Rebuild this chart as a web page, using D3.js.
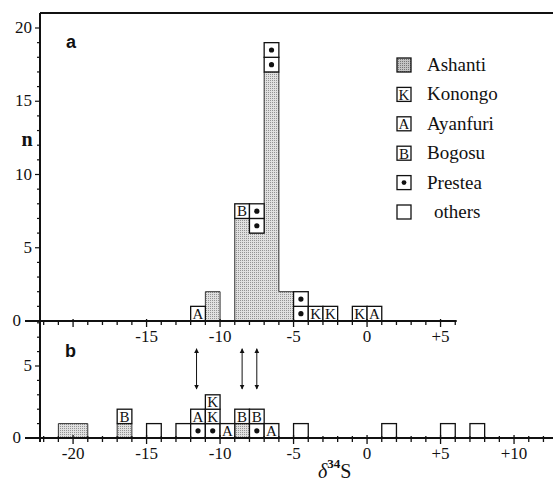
<!DOCTYPE html>
<html>
<head>
<meta charset="utf-8">
<script src="https://cdnjs.cloudflare.com/ajax/libs/d3/7.8.5/d3.min.js"></script>
<style>
  body { margin: 0; background: #fff; }
  #chart text { fill: #111; }
</style>
</head>
<body>
<svg id="chart" width="553" height="481"></svg>
<script>
// panel a - stippled Ashanti counts per 1 permil bin (bin = lower edge)
const ashantiBinsA = [-11, -9, -8, -7, -6]
const ashantiCountA = [2, 7, 6, 17, 2]
// single-sample boxes stacked above, bottom first
const boxBinsA = [-12, -9, -8, -8, -7, -7, -5, -5, -4, -3, -1, 0]
const boxTypesA = ['A', 'B', 'P', 'P', 'P', 'P', 'P', 'P', 'K', 'K', 'K', 'A']

// panel b
const ashantiBinsB = [-21, -20, -17, -9]
const ashantiCountB = [1, 1, 1, 1]
const boxBinsB = [-17, -15, -13, -12, -12, -11, -11, -11, -10, -9, -8, -8, -7, -5, 1, 5, 7]
const boxTypesB = ['B', 'O', 'O', 'P', 'A', 'P', 'K', 'K', 'A', 'B', 'P', 'B', 'A', 'O', 'O', 'O', 'O']
const arrowsB = [-11.6, -8.5, -7.5]

const xLabelsA = [-15, -10, -5, 0, 5]
const xLabelsB = [-20, -15, -10, -5, 0, 5, 10]
const yLabelsA = [5, 10, 15, 20]
const yLabelsB = [5]

const legendCodes = ['S', 'K', 'A', 'B', 'P', 'O']
const legendNames = ['Ashanti', 'Konongo', 'Ayanfuri', 'Bogosu', 'Prestea', 'others']

const serif = "'Liberation Serif', 'Times New Roman', serif"
const sans = "'Liberation Sans', Arial, sans-serif"

const svg = d3.select('#chart')
const x = d3.scaleLinear().domain([-22.25, 12.65]).range([40, 553])
const yA = d3.scaleLinear().domain([0, 20]).range([321, 28])
const yB = d3.scaleLinear().domain([0, 5]).range([438, 366])

// stipple
const defs = svg.append('defs')
const pat = defs.append('pattern').attr('id', 'stip')
  .attr('width', 2).attr('height', 2).attr('patternUnits', 'userSpaceOnUse')
pat.append('rect').attr('width', 2).attr('height', 2).attr('fill', '#e0e0e0')
pat.append('rect').attr('width', 1).attr('height', 1).attr('fill', '#939393')
const pat2 = defs.append('pattern').attr('id', 'stipDark')
  .attr('width', 2).attr('height', 2).attr('patternUnits', 'userSpaceOnUse')
pat2.append('rect').attr('width', 2).attr('height', 2).attr('fill', '#c4c4c4')
pat2.append('rect').attr('width', 1).attr('height', 1).attr('fill', '#777')
defs.append('marker').attr('id', 'head')
  .attr('viewBox', '0 0 10 10').attr('refX', 9).attr('refY', 5)
  .attr('markerWidth', 5).attr('markerHeight', 6).attr('orient', 'auto-start-reverse')
  .append('path').attr('d', 'M0,0L10,5L0,10z').attr('fill', '#111')

function drawPanel(y, ashBins, ashCount, boxBins, boxTypes) {
  const g = svg.append('g')
  g.selectAll('rect.ash')
    .data(ashBins)
    .enter()
    .append('rect')
    .attr('class', 'ash')
    .attr('x', d => x(d))
    .attr('width', d => x(d + 1) - x(d))
    .attr('y', (d, i) => y(ashCount[i]))
    .attr('height', (d, i) => y(0) - y(ashCount[i]))
    .attr('fill', 'url(#stip)')

  // outline of the stippled blocks
  const p = d3.path()
  let prev = null
  ashBins.forEach(function(b, i) {
    const h = ashCount[i]
    if (prev === null || b !== prev + 1) {
      if (prev !== null) p.lineTo(x(prev + 1), y(0))
      p.moveTo(x(b), y(0))
    }
    p.lineTo(x(b), y(h))
    p.lineTo(x(b + 1), y(h))
    prev = b
  })
  p.lineTo(x(prev + 1), y(0))
  g.append('path').attr('d', p.toString())
    .attr('fill', 'none').attr('stroke', '#333').attr('stroke-width', 1)

  const level = {}
  ashBins.forEach((b, i) => { level[b] = ashCount[i] })
  const boxes = boxBins.map(function(b, i) {
    const l = level[b] || 0
    level[b] = l + 1
    return { bin: b, type: boxTypes[i], lev: l }
  })
  const bx = g.selectAll('g.box')
    .data(boxes)
    .enter()
    .append('g')
    .attr('class', 'box')
  bx.append('rect')
    .attr('x', d => x(d.bin))
    .attr('width', d => x(d.bin + 1) - x(d.bin))
    .attr('y', d => y(d.lev + 1))
    .attr('height', d => y(d.lev) - y(d.lev + 1))
    .attr('fill', '#fff')
    .attr('stroke', '#111')
    .attr('stroke-width', 1.3)
  bx.filter(d => d.type === 'P')
    .append('circle')
    .attr('cx', d => x(d.bin + 0.5))
    .attr('cy', d => y(d.lev + 0.5))
    .attr('r', 2.6)
    .attr('fill', '#111')
  bx.filter(d => 'KAB'.includes(d.type))
    .append('text')
    .attr('x', d => x(d.bin + 0.5))
    .attr('y', d => y(d.lev) - 2)
    .attr('text-anchor', 'middle')
    .attr('font-family', serif)
    .attr('font-size', 15)
    .text(d => d.type)
  return g
}

function fmt(d) {
  return d > 0 ? '+' + d : d < 0 ? '-' + Math.abs(d) : '0'
}

function tickMarks(axisY, from, to, lenUp, lenDown, majUp, majDown) {
  svg.append('g').selectAll('line')
    .data(d3.range(from, to + 1))
    .enter()
    .append('line')
    .attr('x1', d => x(d)).attr('x2', d => x(d))
    .attr('y1', d => axisY - (d % 5 === 0 ? majUp : lenUp))
    .attr('y2', d => axisY + (d % 5 === 0 ? majDown : lenDown))
    .attr('stroke', '#111').attr('stroke-width', 1.3)
}

function yTicks(y, from, to, labels) {
  svg.append('g').selectAll('line')
    .data(d3.range(from, to + 1))
    .enter()
    .append('line')
    .attr('x1', d => d % 5 === 0 ? 35 : 37).attr('x2', 40)
    .attr('y1', d => y(d)).attr('y2', d => y(d))
    .attr('stroke', '#111').attr('stroke-width', 1.2)
  svg.append('g').selectAll('text')
    .data(labels)
    .enter()
    .append('text')
    .attr('x', 32).attr('y', d => y(d) + 5)
    .attr('text-anchor', 'end')
    .attr('font-family', serif)
    .attr('font-size', 17)
    .text(d => d)
}

drawPanel(yA, ashantiBinsA, ashantiCountA, boxBinsA, boxTypesA)
drawPanel(yB, ashantiBinsB, ashantiCountB, boxBinsB, boxTypesB)

// frame and axes
svg.append('line').attr('x1', 40).attr('x2', 553).attr('y1', 13).attr('y2', 13)
  .attr('stroke', '#111').attr('stroke-width', 2)
svg.append('line').attr('x1', 40).attr('x2', 40).attr('y1', 13).attr('y2', yB(0) + 4)
  .attr('stroke', '#111').attr('stroke-width', 2)
svg.append('line').attr('x1', 25).attr('x2', x(6.1)).attr('y1', yA(0)).attr('y2', yA(0))
  .attr('stroke', '#111').attr('stroke-width', 2)
svg.append('line').attr('x1', 25).attr('x2', 553).attr('y1', yB(0)).attr('y2', yB(0))
  .attr('stroke', '#111').attr('stroke-width', 2)

tickMarks(yA(0), -22, 6, 0, 4, 2, 6)
tickMarks(yB(0), -22, 12, 2, 4, 3, 6)
yTicks(yA, 1, 20, yLabelsA)
yTicks(yB, 1, 8, yLabelsB)

svg.append('g').selectAll('text')
  .data([yA(0), yB(0)])
  .enter()
  .append('text')
  .attr('x', 21).attr('y', d => d + 5).attr('text-anchor', 'end')
  .attr('font-family', serif).attr('font-size', 17).text('0')

svg.append('g').selectAll('text')
  .data(xLabelsA)
  .enter()
  .append('text')
  .attr('x', d => x(d)).attr('y', yA(0) + 21)
  .attr('text-anchor', 'middle')
  .attr('font-family', serif)
  .attr('font-size', 17)
  .text(fmt)
svg.append('g').selectAll('text')
  .data(xLabelsB)
  .enter()
  .append('text')
  .attr('x', d => x(d)).attr('y', yB(0) + 21)
  .attr('text-anchor', 'middle')
  .attr('font-family', serif)
  .attr('font-size', 17)
  .text(fmt)

// arrows in panel b
svg.append('g').selectAll('line')
  .data(arrowsB)
  .enter()
  .append('line')
  .attr('x1', d => x(d)).attr('x2', d => x(d))
  .attr('y1', yB(6.2)).attr('y2', yB(3.4))
  .attr('stroke', '#111').attr('stroke-width', 1)
  .attr('marker-start', 'url(#head)')
  .attr('marker-end', 'url(#head)')

// labels
svg.append('text').attr('x', 27).attr('y', 146).attr('text-anchor', 'middle')
  .attr('font-family', serif)
  .attr('font-size', 20).attr('font-weight', 'bold').text('n')
svg.append('text').attr('x', 66).attr('y', 48)
  .attr('font-family', sans)
  .attr('font-size', 18).attr('font-weight', 'bold').text('a')
svg.append('text').attr('x', 65).attr('y', 357)
  .attr('font-family', sans)
  .attr('font-size', 18).attr('font-weight', 'bold').text('b')

const xl = svg.append('text').attr('x', 318).attr('y', 478)
  .attr('font-family', serif).attr('font-size', 20)
xl.append('tspan').attr('font-style', 'italic').text('δ')
xl.append('tspan').attr('dy', -10).attr('font-size', 13).attr('font-weight', 'bold').text('34')
xl.append('tspan').attr('dy', 10).text('S')

// legend
const lg = svg.append('g').selectAll('g')
  .data(legendCodes)
  .enter()
  .append('g')
  .attr('transform', (d, i) => 'translate(404,' + (65 + i * 29.4) + ')')
lg.append('rect')
  .attr('x', -7).attr('y', -7).attr('width', 14).attr('height', 14)
  .attr('fill', d => d === 'S' ? 'url(#stipDark)' : '#fff')
  .attr('stroke', '#111').attr('stroke-width', 1.3)
lg.filter(d => d === 'P').append('circle').attr('r', 2.4).attr('fill', '#111')
lg.filter(d => 'KAB'.includes(d)).append('text')
  .attr('y', 5.5).attr('text-anchor', 'middle')
  .attr('font-family', serif).attr('font-size', 15).text(d => d)
lg.append('text')
  .attr('x', (d, i) => legendNames[i] === 'others' ? 30 : 23)
  .attr('y', 6)
  .attr('font-family', serif)
  .attr('font-size', 19)
  .text((d, i) => legendNames[i])
</script>
</body>
</html>
